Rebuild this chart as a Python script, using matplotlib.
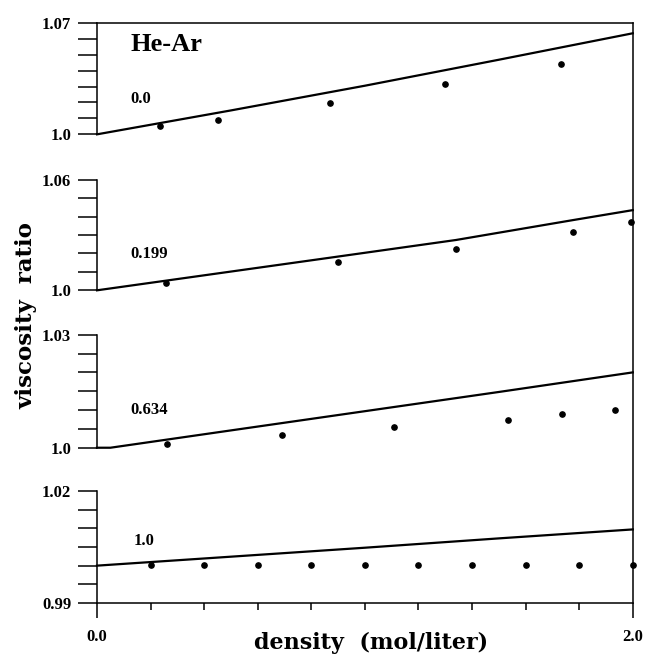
#viscosity ratio vs density for He-Ar mixtures, four stacked panels
import matplotlib
matplotlib.use("Agg")
import matplotlib.pyplot as plt
from matplotlib.ticker import MultipleLocator, NullFormatter

plt.rcParams['font.family'] = ['Liberation Serif', 'DejaVu Serif']
plt.rcParams['font.weight'] = 'bold'

fractions = ["0.0", "0.199", "0.634", "1.0"]  #mole fraction labels, top to bottom

#measured points per panel
x_pts = [
  [0.235, 0.451, 0.869, 1.30, 1.732],
  [0.256, 0.90, 1.34, 1.777, 1.995],
  [0.26, 0.689, 1.108, 1.536, 1.734, 1.933],
  [0.2, 0.4, 0.6, 0.8, 1.0, 1.2, 1.4, 1.6, 1.8, 2.0],
]
y_pts = [
  [1.0052, 1.0090, 1.0194, 1.0316, 1.0439],
  [1.0041, 1.0153, 1.0226, 1.0316, 1.0369],
  [1.0010, 1.0034, 1.0055, 1.0073, 1.0089, 1.0100],
  [1.0001, 1.0001, 1.0001, 1.0001, 1.0001, 1.0001, 1.0001, 1.0001, 1.0001, 1.0001],
]

#theory curves per panel
x_line = [
  [0.0, 0.5, 1.0, 1.5, 2.0],
  [0.0, 0.87, 1.34, 1.777, 2.0],
  [0.0, 0.05, 0.5, 1.0, 1.5, 2.0],
  [0.0, 0.5, 1.0, 1.5, 2.0],
]
y_line = [
  [1.0, 1.0150, 1.0305, 1.0468, 1.0634],
  [1.0, 1.0177, 1.0273, 1.0381, 1.0435],
  [1.0, 1.0, 1.0046, 1.0097, 1.0148, 1.0200],
  [1.0, 1.0024, 1.0048, 1.0073, 1.0097],
]

y_range = [(1.0, 1.07), (1.0, 1.06), (1.0, 1.03), (0.99, 1.02)]
y_labels = [["1.0", "1.07"], ["1.0", "1.06"], ["1.0", "1.03"], ["0.99", "1.02"]]
y_minor = [0.01, 0.01, 0.005, 0.005]

#panel boxes in figure fraction (left, bottom, width, height)
left, width = 0.149, 0.823
boxes = [
  (0.7946, 0.1706),
  (0.5561, 0.1691),
  (0.3154, 0.1728),
  (0.0780, 0.1713),
]
label_pos = [(0.062, 0.316), (0.062, 0.328), (0.062, 0.334), (0.068, 0.554)]

fig = plt.figure(figsize=(6.51, 6.54), dpi=100)

#one continuous right-hand border through all panels
bg = fig.add_axes([left, boxes[3][0], width, boxes[0][0] + boxes[0][1] - boxes[3][0]])
bg.patch.set_visible(False)
for s in ['left', 'top', 'bottom']:
  bg.spines[s].set_visible(False)
bg.spines['right'].set_linewidth(1.1)
bg.set_xticks([])
bg.set_yticks([])

for i in range(4):
  ax = fig.add_axes([left, boxes[i][0], width, boxes[i][1]])
  ax.patch.set_visible(False)
  ax.plot(x_line[i], y_line[i], color='black', lw=1.6, clip_on=False)
  ax.plot(x_pts[i], y_pts[i], 'o', color='black', ms=3.8, clip_on=False)
  ax.set_xlim(0, 2.0)
  ax.set_ylim(*y_range[i])
  ax.spines['right'].set_visible(False)
  ax.spines['left'].set_linewidth(1.1)
  if i != 0:
    ax.spines['top'].set_visible(False)
  else:
    ax.spines['top'].set_linewidth(1.1)
  ax.set_yticks(list(y_range[i]))
  ax.set_yticklabels(y_labels[i], fontsize=12)
  ax.yaxis.set_minor_locator(MultipleLocator(y_minor[i]))
  ax.yaxis.set_minor_formatter(NullFormatter())
  ax.tick_params(axis='y', which='both', direction='out', length=13.5, width=1.1, pad=5)
  if i == 3:
    ax.spines['bottom'].set_linewidth(1.1)
    ax.set_xticks([0.0, 2.0])
    ax.set_xticklabels(["0.0", "2.0"], fontsize=12)
    ax.xaxis.set_minor_locator(MultipleLocator(0.2))
    ax.tick_params(axis='x', which='major', direction='out', length=11, width=1.1, pad=8)
    ax.tick_params(axis='x', which='minor', direction='out', length=5, width=1.1)
  else:
    ax.spines['bottom'].set_visible(False)
    ax.set_xticks([])
  ax.text(label_pos[i][0], label_pos[i][1], fractions[i], transform=ax.transAxes,
          ha='left', va='center', fontsize=12)
  if i == 0:
    ax.text(0.062, 0.809, "He-Ar", transform=ax.transAxes, ha='left', va='center', fontsize=19)

fig.text(0.040, 0.517, "viscosity  ratio", rotation=90, ha='center', va='center',
         fontsize=16.5, family='DejaVu Serif', weight='bold')
fig.text(0.570, 0.017, "density  (mol/liter)", ha='center', va='center',
         fontsize=16, family='DejaVu Serif', weight='bold')

plt.savefig("out.png", dpi=100)
